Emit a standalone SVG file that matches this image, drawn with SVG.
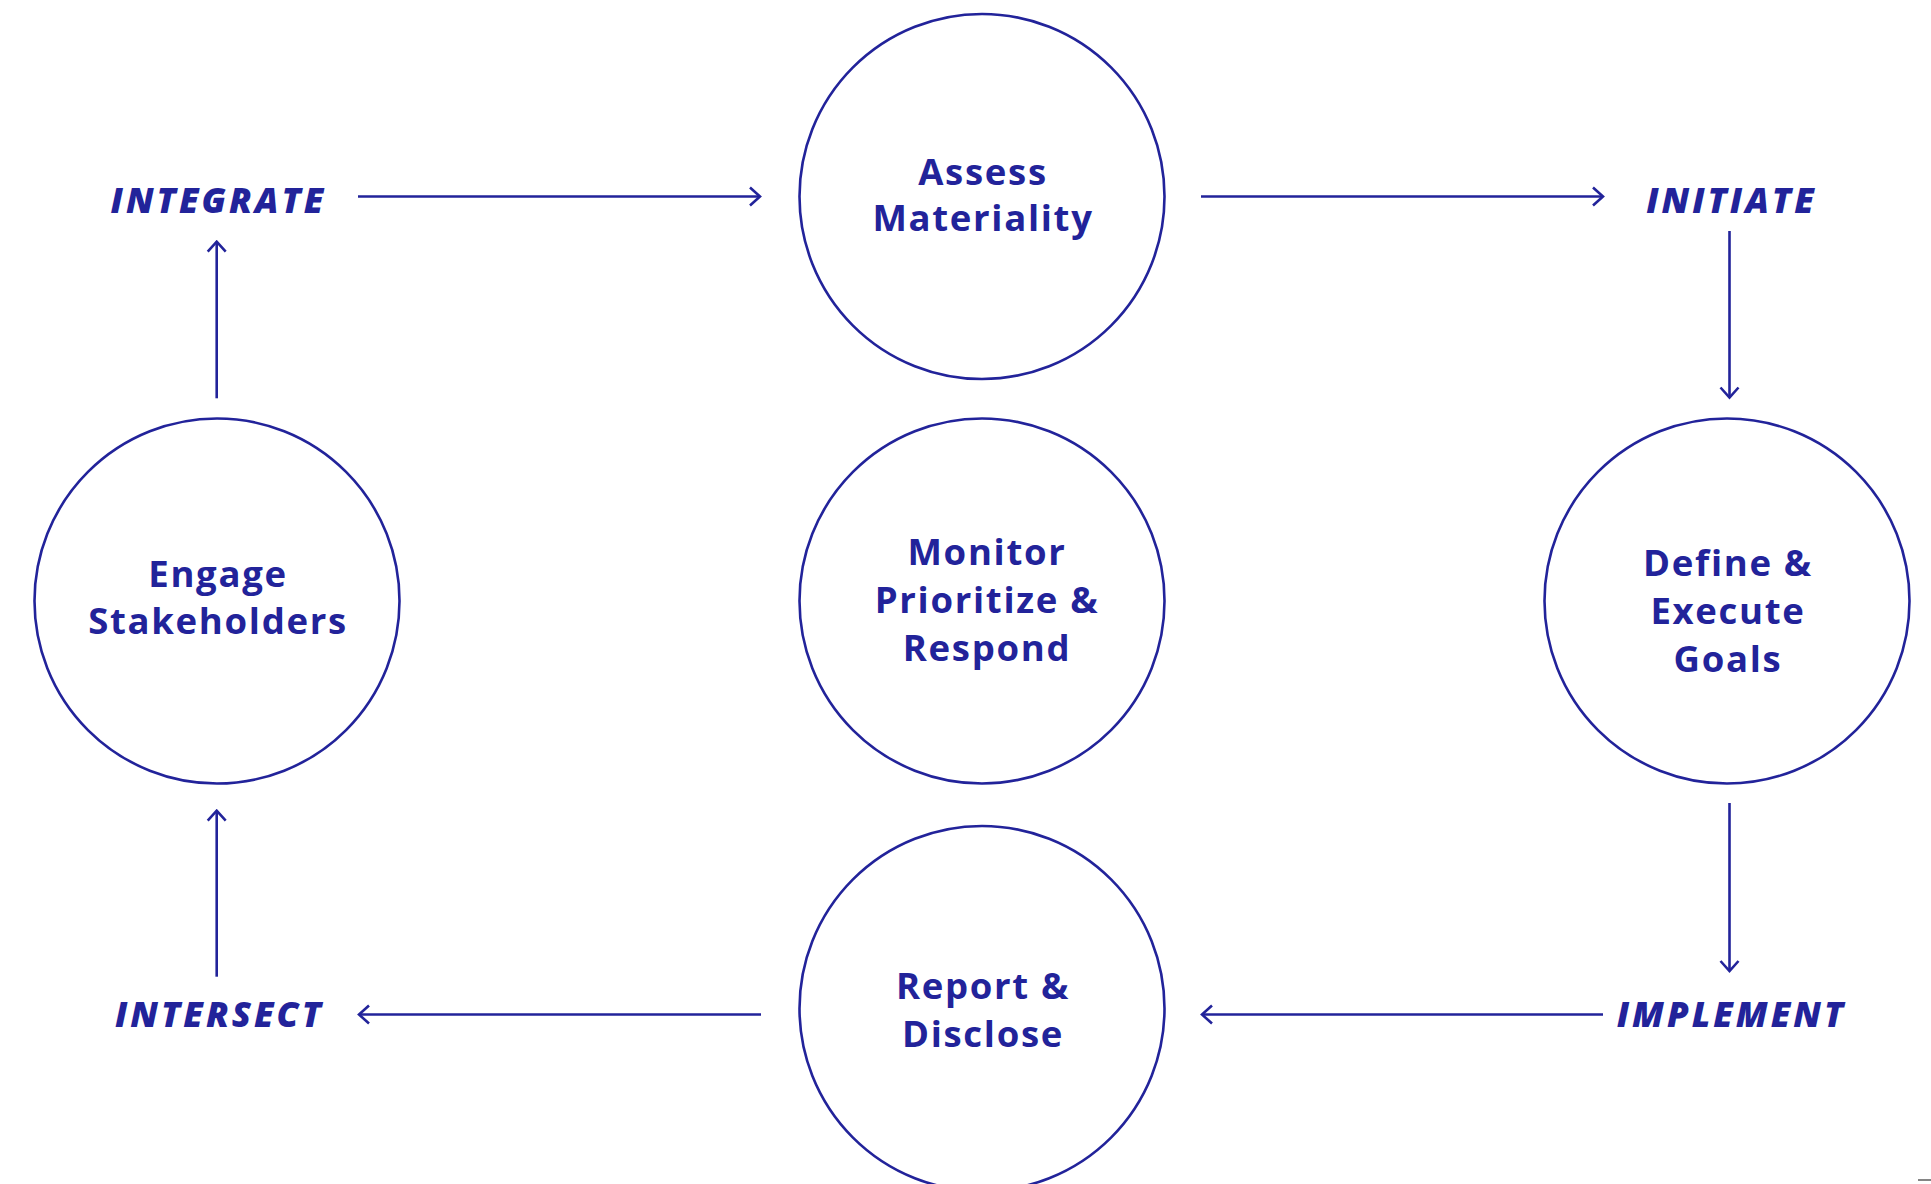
<svg xmlns="http://www.w3.org/2000/svg" width="1931" height="1184" viewBox="0 0 1931 1184">
<defs>
<style>
.node circle{fill:#ffffff;stroke:#22239a;stroke-width:2.6}
.ntext{font-family:"Open Sans","Noto Sans","Liberation Sans",sans-serif;font-weight:700;font-size:36.5px;letter-spacing:1.7px;fill:#22239a;text-anchor:middle}
.lbl{font-family:"Open Sans","Noto Sans","Liberation Sans",sans-serif;font-weight:800;font-style:italic;font-size:35px;letter-spacing:3px;fill:#22239a;text-anchor:middle}
.conn line{stroke:#22239a;stroke-width:2.6;fill:none;marker-end:url(#arr)}
</style>
<marker id="arr" markerUnits="userSpaceOnUse" viewBox="-13 -12 15 24" refX="0" refY="0" markerWidth="15" markerHeight="24" orient="auto">
<path d="M-10,-9 L0,0 L-10,9" fill="none" stroke="#22239a" stroke-width="2.6"/>
</marker>
</defs>
<rect width="1931" height="1184" fill="#ffffff"/>
<g id="connectors" class="conn">
<line x1="358" y1="196.5" x2="760" y2="196.5"/>
<line x1="1201" y1="196.5" x2="1603" y2="196.5"/>
<line x1="1729.5" y1="231" x2="1729.5" y2="397.5"/>
<line x1="1729.5" y1="803" x2="1729.5" y2="971"/>
<line x1="1603" y1="1014.5" x2="1202" y2="1014.5"/>
<line x1="761" y1="1014.5" x2="359" y2="1014.5"/>
<line x1="216.7" y1="976.7" x2="216.7" y2="810.7"/>
<line x1="216.7" y1="398.3" x2="216.7" y2="241.7"/>
</g>
<g id="node-assess" class="node">
<circle cx="982" cy="196.5" r="182.5"/>
<text class="ntext" x="983" y="185">Assess</text>
<text class="ntext" x="983" y="231">Materiality</text>
</g>
<g id="node-engage" class="node">
<circle cx="217" cy="601" r="182.5"/>
<text class="ntext" x="218" y="587">Engage</text>
<text class="ntext" x="218" y="634">Stakeholders</text>
</g>
<g id="node-monitor" class="node">
<circle cx="982" cy="601" r="182.5"/>
<text class="ntext" x="987" y="565">Monitor</text>
<text class="ntext" x="987" y="613">Prioritize &amp;</text>
<text class="ntext" x="987" y="661">Respond</text>
</g>
<g id="node-define" class="node">
<circle cx="1727" cy="601" r="182.5"/>
<text class="ntext" x="1728" y="576">Define &amp;</text>
<text class="ntext" x="1728" y="624">Execute</text>
<text class="ntext" x="1728" y="672">Goals</text>
</g>
<g id="node-report" class="node">
<circle cx="982" cy="1008.5" r="182.5"/>
<text class="ntext" x="983" y="999">Report &amp;</text>
<text class="ntext" x="983" y="1047">Disclose</text>
</g>
<g id="label-integrate"><text class="lbl" x="218.5" y="213">INTEGRATE</text></g>
<g id="label-initiate"><text class="lbl" x="1731.5" y="213">INITIATE</text></g>
<g id="label-intersect"><text class="lbl" x="219.5" y="1027">INTERSECT</text></g>
<g id="label-implement"><text class="lbl" x="1731.5" y="1027">IMPLEMENT</text></g>
<line x1="1918" y1="1180" x2="1931" y2="1180" stroke="#333333" stroke-width="1.2"/>
</svg>
